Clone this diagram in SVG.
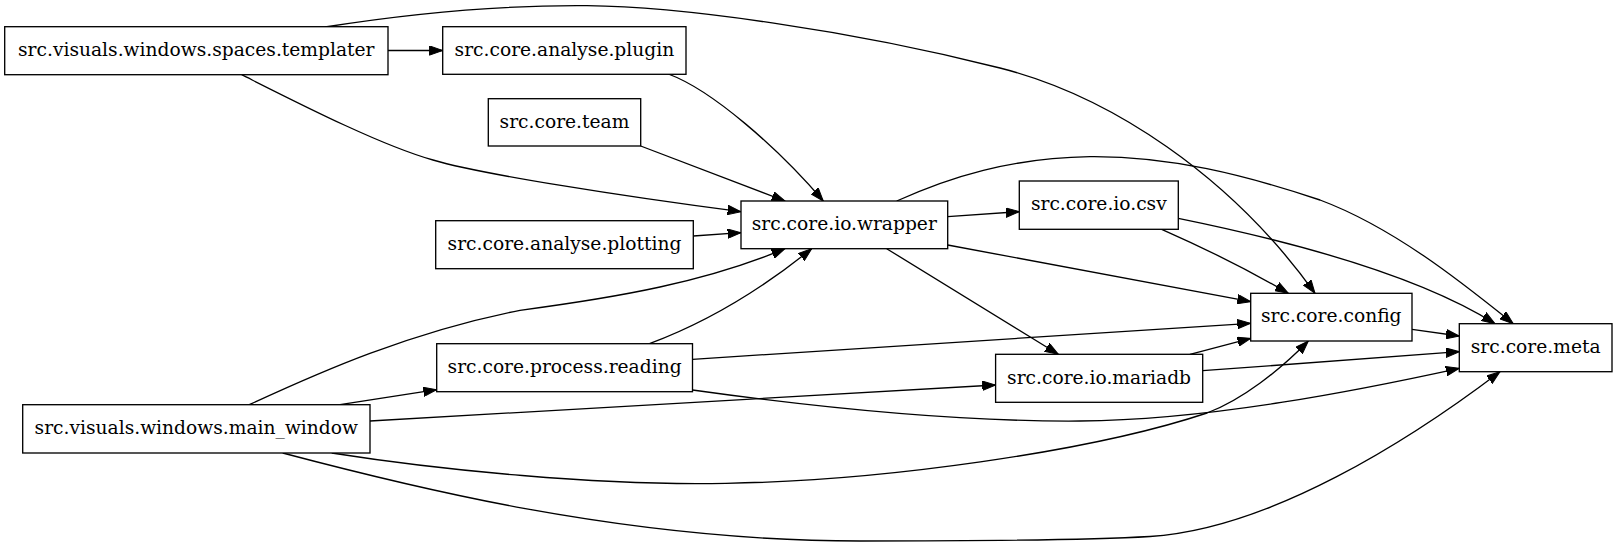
<svg xmlns="http://www.w3.org/2000/svg" width="1617" height="547" viewBox="0 0 1617 547">
<style>
.node rect{fill:#fff;stroke:#000;stroke-width:1.33}
#edges path{fill:none;stroke:#000;stroke-width:1.33}
</style>
<defs>
<marker id="arr" markerUnits="userSpaceOnUse" markerWidth="14" markerHeight="10" refX="13.3" refY="4.67" orient="auto" viewBox="0 0 14 9.34">
<path d="M0,0 L13.3,4.67 L0,9.34 z" fill="#000" stroke="#000" stroke-width="1"/>
</marker>
</defs>
<rect width="1617" height="547" fill="#fff"/>
<g id="edges">
<path id="e-templater-plugin" marker-end="url(#arr)" d="M388,50.5 L442.7,50.5"/>
<path id="e-templater-config" marker-end="url(#arr)" d="M325,27 C420,12 500,5 587,5.7 C680,6.5 850,30 1000,68 C1110,96 1230,175 1315,293.3"/>
<path id="e-templater-wrapper" marker-end="url(#arr)" d="M241.7,74.7 C300,104 380,145 433,160 C480,174 620,196 741,211.7"/>
<path id="e-plugin-wrapper" marker-end="url(#arr)" d="M668.3,74 C712,90 778,148 823.3,201"/>
<path id="e-team-wrapper" marker-end="url(#arr)" d="M640.7,146 L785,201"/>
<path id="e-plotting-wrapper" marker-end="url(#arr)" d="M693.3,236 L741,232.7"/>
<path id="e-main-wrapper" marker-end="url(#arr)" d="M249.3,404.7 C320,372 410,332 520,310.3 C620,297 705,282 785,248.7"/>
<path id="e-reading-wrapper" marker-end="url(#arr)" d="M649.5,343.7 C697,326 752,297 811.7,248.7"/>
<path id="e-wrapper-csv" marker-end="url(#arr)" d="M947.7,216.7 L1019.3,211.7"/>
<path id="e-wrapper-meta" marker-end="url(#arr)" d="M896.7,201 C950,177 1010,158 1090,156.7 C1170,156 1245,175 1320,200 C1395,228 1465,285 1513.3,323.7"/>
<path id="e-wrapper-config" marker-end="url(#arr)" d="M947.7,245 L1250.7,301.7"/>
<path id="e-wrapper-mariadb" marker-end="url(#arr)" d="M886.7,248.7 L1058.3,354.3"/>
<path id="e-csv-config" marker-end="url(#arr)" d="M1161.7,229.3 C1195,244 1240,265 1288.3,293.3"/>
<path id="e-csv-meta" marker-end="url(#arr)" d="M1178.3,218.3 C1270,237 1410,270 1495,323.7"/>
<path id="e-reading-config" marker-end="url(#arr)" d="M692.5,359.3 L1250.7,323.3"/>
<path id="e-reading-meta" marker-end="url(#arr)" d="M692.5,390 C800,405 950,422 1080,421 C1210,420 1360,390 1459.3,368.3"/>
<path id="e-main-reading" marker-end="url(#arr)" d="M340,404.7 L436.7,389.7"/>
<path id="e-main-mariadb" marker-end="url(#arr)" d="M370,421 L995.6,385"/>
<path id="e-main-config" marker-end="url(#arr)" d="M331.7,453 C440,470 600,486 726,483.3 C880,481 1090,452 1207,413 C1242,400 1280,370 1308.3,341"/>
<path id="e-main-meta" marker-end="url(#arr)" d="M282.7,453 C400,484 620,541 860,541 C980,541 1090,540 1150,536.5 C1270,529 1410,440 1500,371.7"/>
<path id="e-mariadb-config" marker-end="url(#arr)" d="M1190,354.3 L1250.7,338.3"/>
<path id="e-mariadb-meta" marker-end="url(#arr)" d="M1202.7,370.7 L1459.3,351.7"/>
<path id="e-config-meta" marker-end="url(#arr)" d="M1412,329.3 L1459.3,336"/>
</g>
<g id="nodes" font-family="'DejaVu Serif', 'Liberation Serif', serif" font-size="18.67" text-anchor="middle" fill="#000">
<g id="n-templater" class="node"><rect x="4.7" y="26.7" width="383.3" height="48"/><text x="196.3" y="56">src.visuals.windows.spaces.templater</text></g>
<g id="n-plugin" class="node"><rect x="442.7" y="26.7" width="243.3" height="47.6"/><text x="564.4" y="56">src.core.analyse.plugin</text></g>
<g id="n-team" class="node"><rect x="488.3" y="98.7" width="152.4" height="47.3"/><text x="564.5" y="127.6">src.core.team</text></g>
<g id="n-plotting" class="node"><rect x="435.7" y="220.7" width="257.6" height="48"/><text x="564.5" y="250">src.core.analyse.plotting</text></g>
<g id="n-wrapper" class="node"><rect x="741" y="201" width="206.7" height="47.7"/><text x="844.3" y="230.1">src.core.io.wrapper</text></g>
<g id="n-csv" class="node"><rect x="1019.3" y="181" width="159" height="48.3"/><text x="1098.8" y="210.4">src.core.io.csv</text></g>
<g id="n-main_window" class="node"><rect x="22.7" y="404.7" width="347.3" height="48.3"/><text x="196.3" y="434.1">src.visuals.windows.main_window</text></g>
<g id="n-reading" class="node"><rect x="436.7" y="343.7" width="255.8" height="48"/><text x="564.6" y="373">src.core.process.reading</text></g>
<g id="n-mariadb" class="node"><rect x="995.6" y="354.3" width="207.1" height="48"/><text x="1099.1" y="383.6">src.core.io.mariadb</text></g>
<g id="n-config" class="node"><rect x="1250.7" y="293.3" width="161.3" height="47.7"/><text x="1331.3" y="322.4">src.core.config</text></g>
<g id="n-meta" class="node"><rect x="1459.3" y="323.7" width="152.7" height="48"/><text x="1535.7" y="353">src.core.meta</text></g>
</g>
</svg>
